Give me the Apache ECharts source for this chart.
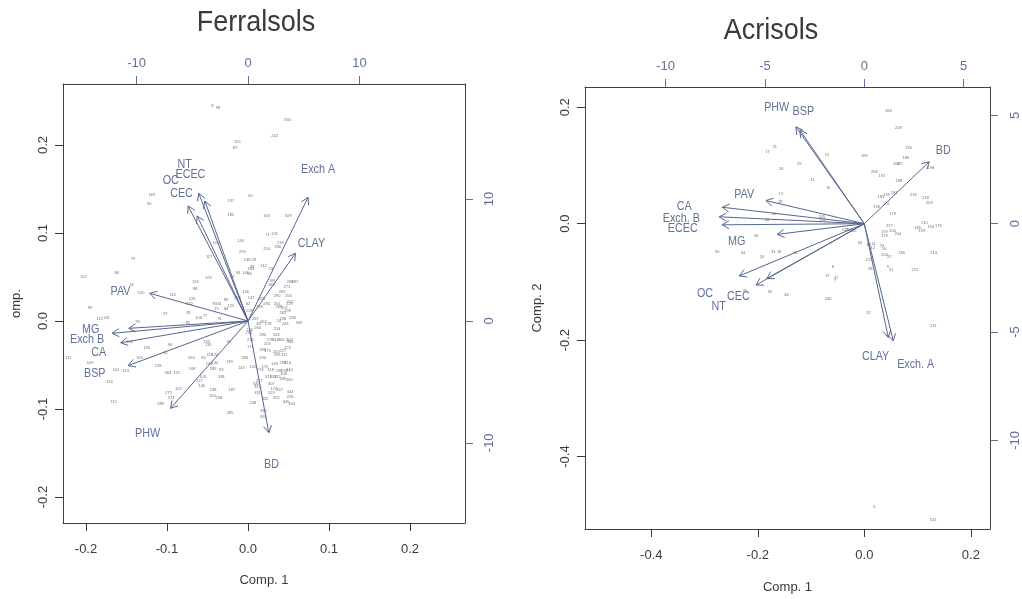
<!DOCTYPE html>
<html>
<head>
<meta charset="utf-8">
<script src="https://cdn.jsdelivr.net/npm/echarts@6/dist/echarts.min.js"></script>
<style>
  html, body { margin: 0; padding: 0; background: #ffffff; }
  #chart { width: 1022px; height: 599px; }
</style>
</head>
<body>
<div id="chart"></div>
<script>
// PCA biplots of soil properties for two soil groups.
// Sample scores use the bottom/left axes, variable loadings the top/right axes.

const FONT = "'Liberation Sans', Arial, Helvetica, sans-serif";
const INK = '#3a3a3a';
const FRAME = '#404040';
const SLATE = '#55678e';
const SLATE_TEXT = '#5f7199';
const SCORE_TEXT = '#707070';

// ---------- Ferralsols ----------
const ferrIds = [8, 98, 330, 242, 155, 87, 118, 90, 137, 60, 182, 163, 329, 79, 107, 86, 74, 120, 110, 124,
  129, 88, 126, 132, 83, 61, 75, 89, 68, 125, 99, 112, 116, 95, 97, 81, 77, 85, 106, 91,
  100, 135, 96, 133, 131, 78, 111, 109, 101, 113, 105, 128, 92, 264, 84, 119, 122, 134, 130, 283,
  93, 139, 108, 103, 338, 114, 363, 121, 127, 140, 102, 148, 187, 275, 274, 164, 258, 143, 266, 115,
  288, 285, 248, 335, 334, 344, 226, 345, 343, 323, 292, 307, 172, 347, 331, 332, 71, 241, 233, 336,
  254, 144, 145, 117, 293, 138, 28, 43, 104, 142, 53, 84, 146, 94, 57, 181, 189, 208, 287, 271,
  263, 136, 209, 147, 225, 290, 256, 284, 62, 201, 212, 219, 188, 268, 207, 299, 261, 229, 236, 333,
  339, 243, 54, 214, 162, 178, 48, 267, 260, 280, 240, 239, 215, 326, 278, 313, 300, 302, 203, 304,
  222, 171, 286, 173, 227, 250, 296, 311, 294, 170, 149, 298, 316, 273, 318, 249, 238, 340, 306, 317,
  351, 352, 349, 265, 277, 320, 315, 152];
const ferrX = [-0.044, -0.037, 0.049, 0.033, -0.013, -0.016, -0.119, -0.122, -0.021, 0.003, -0.021, 0.023, 0.050, -0.142, -0.203, -0.162, -0.144, -0.132, -0.093, -0.065,
  -0.049, -0.065, -0.069, -0.072, -0.041, -0.035, -0.039, -0.027, -0.027, -0.021, -0.195, -0.183, -0.175, -0.136, -0.102, -0.073, -0.053, -0.074, -0.061, -0.035,
  -0.146, -0.125, -0.096, -0.051, -0.049, -0.024, -0.222, -0.195, -0.163, -0.151, -0.134, -0.111, -0.102, -0.070, -0.055, -0.047, -0.041, -0.048, -0.041, -0.043,
  -0.033, -0.023, -0.069, -0.056, -0.033, -0.171, -0.099, -0.088, -0.060, -0.057, -0.086, -0.043, -0.020, -0.098, -0.095, -0.044, -0.036, -0.008, -0.004, -0.166,
  -0.108, -0.022, 0.006, 0.019, 0.019, 0.052, 0.052, 0.047, 0.054, 0.029, 0.035, 0.029, 0.032, 0.039, 0.012, 0.021, 0.024, 0.033, 0.040, 0.037,
  0.023, -0.009, -0.040, -0.048, -0.007, -0.001, 0.007, 0.005, 0.004, 0.019, 0.028, -0.012, -0.003, 0.002, -0.019, 0.030, 0.029, 0.052, 0.058, 0.048,
  0.042, -0.003, -0.013, 0.004, 0.017, 0.036, 0.050, 0.023, 0.000, 0.036, 0.052, 0.051, 0.014, 0.038, 0.045, 0.049, 0.043, 0.002, 0.043, 0.055,
  0.063, 0.046, 0.038, 0.036, 0.019, 0.025, 0.013, 0.009, 0.012, 0.018, 0.002, 0.001, 0.003, 0.035, 0.027, 0.034, 0.041, 0.051, 0.024, 0.052,
  0.049, 0.003, 0.018, 0.024, 0.043, 0.035, 0.036, 0.045, 0.018, 0.021, 0.033, 0.043, 0.049, 0.015, 0.028, 0.038, 0.045, 0.051, 0.044, 0.025,
  0.031, 0.036, 0.043, 0.051, 0.014, 0.010, 0.012, 0.006];
const ferrY = [0.244, 0.242, 0.229, 0.210, 0.204, 0.197, 0.143, 0.133, 0.136, 0.142, 0.121, 0.120, 0.119, 0.071, 0.050, 0.055, 0.041, 0.032, 0.030, 0.045,
  0.049, 0.037, 0.025, 0.020, 0.019, 0.020, 0.014, 0.024, 0.014, 0.017, 0.015, 0.002, 0.003, -0.001, 0.008, 0.009, 0.006, -0.002, 0.003, 0.002,
  -0.024, -0.031, -0.027, -0.024, -0.027, -0.024, -0.042, -0.048, -0.055, -0.057, -0.042, -0.051, -0.036, -0.042, -0.042, -0.039, -0.038, -0.049, -0.048, -0.054,
  -0.055, -0.046, -0.054, -0.063, -0.063, -0.069, -0.059, -0.059, -0.068, -0.074, -0.077, -0.078, -0.078, -0.082, -0.087, -0.085, -0.087, -0.053, -0.042, -0.092,
  -0.094, -0.104, -0.093, -0.102, -0.109, -0.080, -0.086, -0.092, -0.094, -0.082, -0.087, -0.072, -0.077, -0.078, -0.082, -0.089, 0.098, 0.099, 0.089, 0.084,
  0.082, 0.091, 0.089, 0.073, 0.079, 0.069, 0.069, 0.062, 0.059, 0.063, 0.059, 0.055, 0.055, 0.054, 0.050, 0.046, 0.041, 0.044, 0.044, 0.039,
  0.033, 0.033, 0.026, 0.026, 0.025, 0.028, 0.028, 0.020, 0.019, 0.020, 0.022, 0.019, 0.016, 0.016, 0.015, 0.011, 0.009, 0.011, 0.002, 0.004,
  -0.002, -0.003, 0.000, -0.009, -0.001, -0.003, -0.003, 0.002, -0.008, -0.016, -0.010, -0.013, -0.021, -0.016, -0.022, -0.021, -0.022, -0.021, -0.026, -0.024,
  -0.030, -0.029, -0.033, -0.034, -0.034, -0.035, -0.039, -0.039, -0.042, -0.052, -0.049, -0.048, -0.048, -0.055, -0.055, -0.057, -0.057, -0.055, -0.060, -0.064,
  -0.064, -0.064, -0.066, -0.067, -0.068, -0.071, -0.075, -0.052];

const ferrVars = ['NT', 'ECEC', 'OC', 'CEC', 'Exch A', 'CLAY', 'BD', 'PAV', 'MG', 'Exch B', 'CA', 'BSP', 'PHW'];
const ferrTipX = [-4.42, -3.88, -5.38, -4.57, 5.38, 4.25, 1.86, -8.82, -10.70, -12.20, -11.42, -10.76, -6.96];
const ferrTipY = [10.47, 9.84, 9.43, 8.61, 10.14, 5.55, -9.16, 2.27, -0.60, -1.01, -1.78, -3.66, -7.16];
const ferrLabX = [-5.68, -5.17, -6.93, -5.97, 6.28, 5.69, 2.10, -11.44, -14.11, -14.44, -13.39, -13.75, -9.02];
const ferrLabY = [12.79, 11.97, 11.50, 10.41, 12.38, 6.31, -11.80, 2.40, -0.68, -1.56, -2.57, -4.29, -9.20];

const ferrTicksX = [-0.2, -0.1, 0, 0.1, 0.2];
const ferrTicksY = [-0.2, -0.1, 0, 0.1, 0.2];
const ferrTicksTop = [-10, 0, 10];
const ferrTicksRight = [-10, 0, 10];

// ---------- Acrisols ----------
const acriIds = [184, 228, 21, 17, 15, 189, 190, 186, 207, 187, 26, 29, 206, 192, 198, 188, 11, 19, 13, 28,
  183, 199, 181, 216, 218, 209, 196, 201, 179, 10, 34, 205, 212, 217, 210, 176, 194, 185, 193, 197,
  200, 204, 219, 168, 166, 155, 36, 30, 44, 24, 33, 18, 20, 43, 39, 14, 12, 23, 16, 180,
  214, 202, 22, 213, 38, 9, 31, 215, 8, 37, 47, 7, 25, 35, 46, 240, 32, 211, 6, 161];
const acriX = [0.045, 0.064, -0.168, -0.182, -0.070, 0.000, 0.083, 0.078, 0.060, 0.066, -0.156, -0.122, 0.019, 0.033, 0.125, 0.065, -0.097, -0.068, -0.157, -0.158,
  0.031, 0.042, 0.056, 0.092, 0.115, 0.122, 0.023, 0.042, 0.053, -0.169, -0.183, -0.080, -0.078, 0.047, 0.113, 0.139, 0.125, 0.100, 0.108, 0.038,
  0.053, 0.063, 0.038, -0.036, -0.028, -0.021, -0.203, -0.276, -0.228, -0.192, -0.171, -0.160, -0.130, -0.008, 0.008, 0.017, 0.016, 0.033, 0.037, 0.070,
  0.130, 0.038, 0.047, 0.009, 0.011, 0.044, 0.050, 0.095, -0.059, -0.069, -0.053, -0.055, -0.224, -0.177, -0.146, -0.068, 0.008, 0.130, 0.019, 0.129];
const acriY = [0.194, 0.165, 0.132, 0.124, 0.118, 0.116, 0.130, 0.113, 0.102, 0.102, 0.094, 0.103, 0.089, 0.082, 0.096, 0.073, 0.075, 0.062, 0.051, 0.038,
  0.046, 0.049, 0.053, 0.049, 0.045, 0.036, 0.029, 0.034, 0.017, 0.017, 0.006, 0.011, 0.007, -0.003, 0.002, -0.003, -0.005, -0.007, -0.012, -0.014,
  -0.012, -0.017, -0.021, -0.010, -0.011, -0.013, -0.021, -0.048, -0.051, -0.057, -0.048, -0.048, -0.051, -0.033, -0.037, -0.034, -0.041, -0.039, -0.043, -0.050,
  -0.050, -0.053, -0.057, -0.063, -0.078, -0.075, -0.079, -0.080, -0.074, -0.089, -0.093, -0.099, -0.116, -0.118, -0.122, -0.130, -0.153, -0.176, -0.487, -0.508];

const acriVars = ['PHW', 'BSP', 'BD', 'PAV', 'CA', 'Exch. B', 'ECEC', 'MG', 'OC', 'NT', 'CEC', 'CLAY', 'Exch. A'];
const acriTipX = [-3.44, -3.24, 3.27, -4.95, -7.15, -7.30, -7.16, -4.38, -6.29, -5.45, -4.91, 1.21, 1.46];
const acriTipY = [4.47, 4.32, 2.86, 1.07, 0.76, 0.32, -0.05, -0.49, -2.41, -2.83, -2.53, -5.25, -5.41];
const acriLabX = [-4.41, -3.07, 3.98, -6.05, -9.07, -9.21, -9.14, -6.42, -8.02, -7.33, -6.34, 0.57, 2.59];
const acriLabY = [5.37, 5.19, 3.38, 1.35, 0.78, 0.24, -0.23, -0.82, -3.24, -3.80, -3.38, -6.15, -6.48];

const acriTicksX = [-0.4, -0.2, 0, 0.2];
const acriTicksY = [-0.4, -0.2, 0, 0.2];
const acriTicksTop = [-10, -5, 0, 5];
const acriTicksRight = [-10, -5, 0, 5];

// ---------- builders ----------
const fmt1 = v => (Math.abs(v) < 1e-9 ? 0 : v).toFixed(1);
const fmt0 = v => String(Math.round(v));

function axis(gridIndex, position, min, max, ticks, formatter, color, margin, rotate, name, nameGap) {
  const a = {
    type: 'value', gridIndex, position, min, max,
    splitLine: { show: false },
    axisLine: { show: true, onZero: false, lineStyle: { color: FRAME, width: 1 } },
    axisTick: { show: true, inside: false, length: 8, customValues: ticks, lineStyle: { color, width: 1 } },
    axisLabel: { show: true, customValues: ticks, formatter, color, fontSize: 13, fontFamily: FONT,
                 margin, rotate: rotate || 0, hideOverlap: false }
  };
  if (name) {
    a.name = name;
    a.nameLocation = 'middle';
    a.nameGap = nameGap;
    a.nameTextStyle = { color: INK, fontSize: 13, fontFamily: FONT };
  }
  return a;
}

function scoreSeries(gi, ids, xs, ys) {
  return {
    type: 'custom', coordinateSystem: 'cartesian2d',
    xAxisIndex: 2 * gi, yAxisIndex: 2 * gi,
    silent: true, animation: false, clip: false,
    data: ids.map((id, i) => [xs[i], ys[i], id]),
    renderItem(params, api) {
      const p = api.coord([api.value(0), api.value(1)]);
      return {
        type: 'text', x: p[0], y: p[1],
        style: { text: String(api.value(2)), fill: SCORE_TEXT, fontSize: 4, fontFamily: FONT,
                 align: 'center', verticalAlign: 'middle' }
      };
    }
  };
}

function loadingSeries(gi, names, tipX, tipY, labX, labY) {
  return {
    type: 'custom', coordinateSystem: 'cartesian2d',
    xAxisIndex: 2 * gi + 1, yAxisIndex: 2 * gi + 1,
    silent: true, animation: false, clip: false,
    data: names.map((n, i) => ({ name: n, value: [tipX[i], tipY[i], labX[i], labY[i]] })),
    renderItem(params, api) {
      const o = api.coord([0, 0]);
      const t = api.coord([api.value(0), api.value(1)]);
      const l = api.coord([api.value(2), api.value(3)]);
      const ang = Math.atan2(t[1] - o[1], t[0] - o[0]);
      const hl = 8, sp = Math.PI / 6;
      const h1 = [t[0] - hl * Math.cos(ang - sp), t[1] - hl * Math.sin(ang - sp)];
      const h2 = [t[0] - hl * Math.cos(ang + sp), t[1] - hl * Math.sin(ang + sp)];
      return {
        type: 'group',
        children: [
          { type: 'line', shape: { x1: o[0], y1: o[1], x2: t[0], y2: t[1] },
            style: { stroke: SLATE, lineWidth: 1 } },
          { type: 'polyline', shape: { points: [h1, t, h2] },
            style: { stroke: SLATE, lineWidth: 1, fill: 'none' } },
          { type: 'text', x: l[0], y: l[1], scaleX: 0.86,
            style: { text: names[params.dataIndex], fill: SLATE_TEXT, fontSize: 12.5, fontFamily: FONT,
                     align: 'center', verticalAlign: 'middle' } }
        ]
      };
    }
  };
}

const chart = echarts.init(document.getElementById('chart'), null, { renderer: 'canvas' });

chart.setOption({
  backgroundColor: '#ffffff',
  animation: false,
  graphic: [
    { type: 'text', x: 256, y: 23, scaleX: 0.9,
      style: { text: 'Ferralsols', fill: INK, fontSize: 30, fontFamily: FONT, align: 'center', verticalAlign: 'middle' } },
    { type: 'text', x: 771, y: 31, scaleX: 0.9,
      style: { text: 'Acrisols', fill: INK, fontSize: 30, fontFamily: FONT, align: 'center', verticalAlign: 'middle' } }
  ],
  grid: [
    { left: 63, top: 84, width: 402, height: 439, containLabel: false },
    { left: 585, top: 87, width: 405, height: 443, containLabel: false }
  ],
  xAxis: [
    axis(0, 'bottom', -0.2284, 0.268, ferrTicksX, fmt1, INK, 20, 0, 'Comp. 1', 51),
    axis(0, 'top', -16.6, 19.46, ferrTicksTop, fmt0, SLATE_TEXT, 14, 0),
    axis(1, 'bottom', -0.5245, 0.236, acriTicksX, fmt1, INK, 20, 0, 'Comp. 1', 52),
    axis(1, 'top', -14.06, 6.33, acriTicksTop, fmt0, SLATE_TEXT, 14, 0)
  ],
  yAxis: [
    axis(0, 'left', -0.2295, 0.2693, ferrTicksY, fmt1, INK, 13, 90, 'omp.', 40),
    axis(0, 'right', -16.56, 19.43, ferrTicksRight, fmt0, SLATE_TEXT, 18, 90),
    axis(1, 'left', -0.5245, 0.2348, acriTicksY, fmt1, INK, 13, 90, 'Comp. 2', 41),
    axis(1, 'right', -14.09, 6.31, acriTicksRight, fmt0, SLATE_TEXT, 19, 90)
  ],
  series: [
    scoreSeries(0, ferrIds, ferrX, ferrY),
    loadingSeries(0, ferrVars, ferrTipX, ferrTipY, ferrLabX, ferrLabY),
    scoreSeries(1, acriIds, acriX, acriY),
    loadingSeries(1, acriVars, acriTipX, acriTipY, acriLabX, acriLabY)
  ]
});
</script>
</body>
</html>
